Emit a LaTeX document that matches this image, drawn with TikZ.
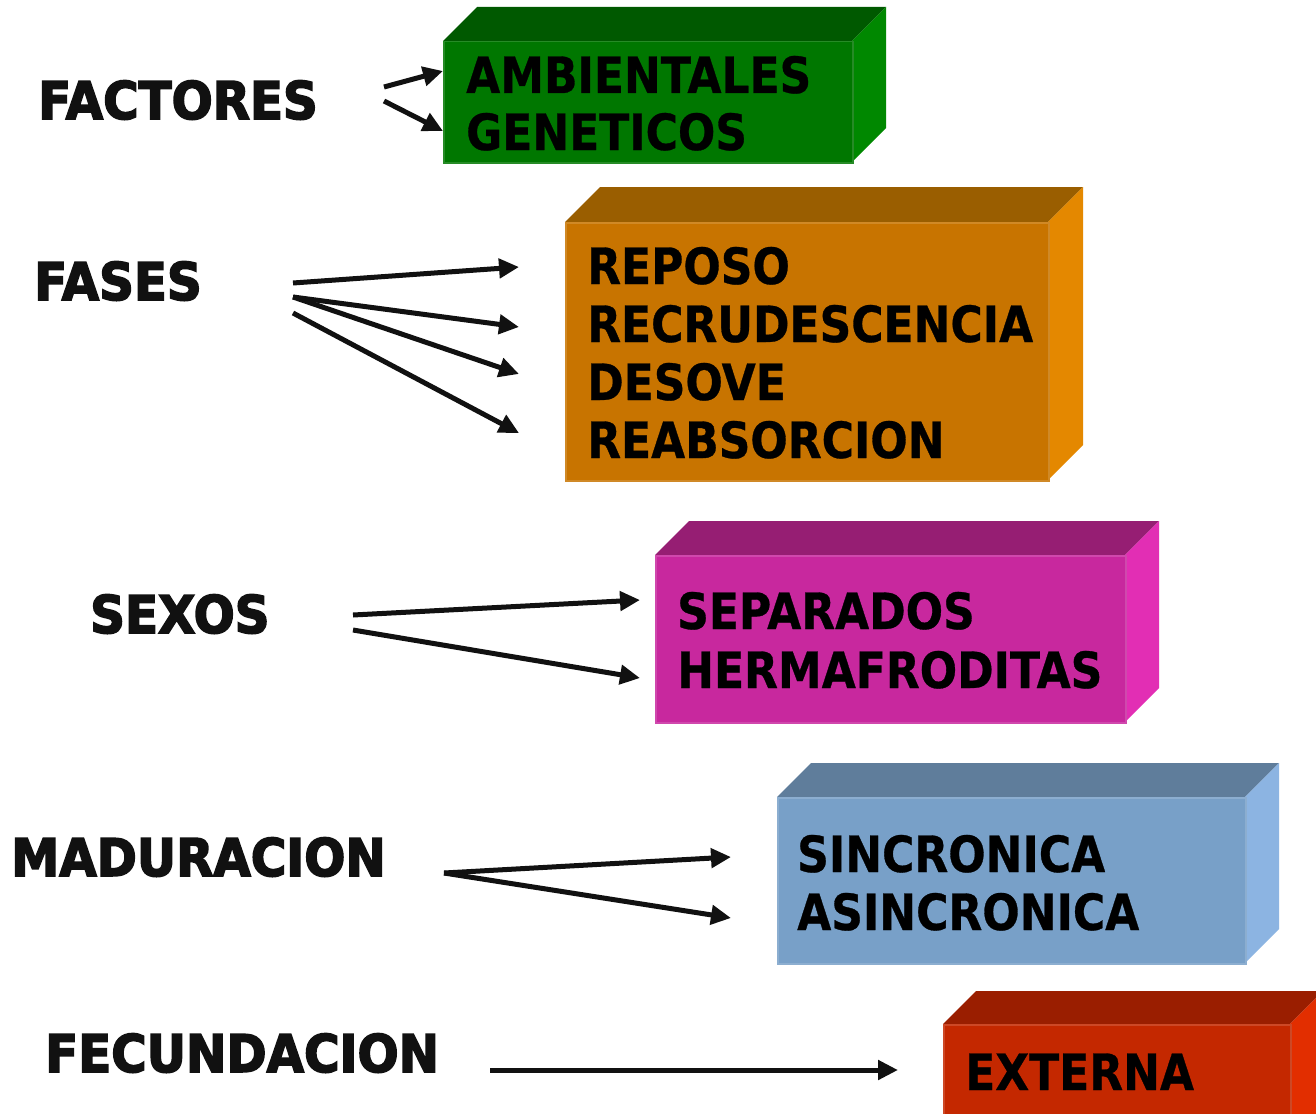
\documentclass[tikz,border=0pt]{standalone}
\usepackage{fontspec}
\usetikzlibrary{arrows.meta}
\newfontfamily\boxfont[FakeStretch=0.88,FakeBold=0.6]{DejaVu Sans Bold}
\newfontfamily\lblfont[FakeStretch=0.93,FakeBold=3]{DejaVu Sans Bold}
\definecolor{gF}{RGB}{0,119,0}\definecolor{gT}{RGB}{0,89,0}\definecolor{gS}{RGB}{0,136,0}
\definecolor{oF}{RGB}{200,116,0}\definecolor{oT}{RGB}{154,94,0}\definecolor{oS}{RGB}{228,136,0}
\definecolor{mF}{RGB}{200,40,158}\definecolor{mT}{RGB}{150,30,115}\definecolor{mS}{RGB}{226,46,180}
\definecolor{bF}{RGB}{120,160,200}\definecolor{bT}{RGB}{95,125,155}\definecolor{bS}{RGB}{140,180,226}
\definecolor{rF}{RGB}{196,40,0}\definecolor{rT}{RGB}{154,30,0}\definecolor{rS}{RGB}{226,46,0}
\definecolor{ink}{RGB}{17,17,17}
% \cubebox{name}{x1}{y1}{x2}{y2}{depth}{front}{top}{side}
\newcommand\cubebox[9]{%
  \fill[#8] (#2,#3) -- ++(#6,-#6) -- (#4+#6,#3-#6) -- (#4,#3) -- cycle;
  \fill[#9] (#4,#3) -- (#4+#6,#3-#6) -- (#4+#6,#5-#6) -- (#4,#5) -- cycle;
  \node[fill=#7, draw=#7!85!white, line width=1.5pt, inner sep=0pt, anchor=north west,
        minimum width={#4-#2}, minimum height={#5-#3}] (#1) at (#2,#3) {};
}
\tikzset{
  lbl/.style={font=\lblfont\fontsize{52}{52}\selectfont, text=ink, anchor=base west, inner sep=0pt},
  txt/.style={font=\boxfont\fontsize{50}{50}\selectfont, text=black, anchor=base west, inner sep=0pt},
  arr/.style={draw=ink, line width=5pt, -{Triangle[length=20pt,width=19pt]}}
}
\begin{document}
\begin{tikzpicture}[x=1pt,y=-1pt]
\useasboundingbox[fill=white] (0,0) rectangle (1316,1113);
% boxes
\cubebox{amb}{443}{41}{852}{162}{34}{gF}{gT}{gS}
\cubebox{fas}{565}{222}{1048}{480}{35}{oF}{oT}{oS}
\cubebox{sex}{655}{555}{1125}{722}{34}{mF}{mT}{mS}
\cubebox{mad}{777}{797}{1245}{963}{34}{bF}{bT}{bS}
\cubebox{fec}{943}{1024}{1290}{1140}{33}{rF}{rT}{rS}
% box texts
\node[txt] (t1) at (466,93) {AMBIENTALES};
\node[txt] (t2) at (466,150) {GENETICOS};
\node[txt] (t3) at (587,284) {REPOSO};
\node[txt] (t4) at (587,342) {RECRUDESCENCIA};
\node[txt] (t5) at (587,400) {DESOVE};
\node[txt] (t6) at (587,458) {REABSORCION};
\node[txt] (t7) at (677,629) {SEPARADOS};
\node[txt] (t8) at (677,688) {HERMAFRODITAS};
\node[txt] (t9) at (797,872) {SINCRONICA};
\node[txt] (t10) at (797,930) {ASINCRONICA};
\node[txt] (t11) at (965,1090) {EXTERNA};
% left labels
\node[lbl] (factores) at (38,119) {FACTORES};
\node[lbl] (fases) at (34,300) {FASES};
\node[lbl] (sexos) at (90,633) {SEXOS};
\node[lbl] (maduracion) at (11,876) {MADURACION};
\node[lbl] (fecundacion) at (45,1072) {FECUNDACION};
% arrow start/end points
\coordinate (fa1) at (384,87);  \coordinate (fa2) at (384,101);
\coordinate (fs1) at (293,283); \coordinate (fs2) at (293,297); \coordinate (fs3) at (293,313);
\coordinate (sx1) at (353,615); \coordinate (sx2) at (353,630);
\coordinate (md) at (444,873);
\coordinate (fc) at (490,1070);
\coordinate (e1) at (519,267); \coordinate (e2) at (519,327); \coordinate (e3) at (519,374); \coordinate (e4) at (519,433);
\coordinate (s1) at (640,600); \coordinate (s2) at (640,678);
\coordinate (m1) at (731,857); \coordinate (m2) at (731,918);
\coordinate (x1) at (898,1070);
\draw[arr] (fa1) -- (amb.west |- 0,71);
\draw[arr] (fa2) -- (amb.west |- 0,131);
\draw[arr] (fs1) -- (e1);
\draw[arr] (fs2) -- (e2);
\draw[arr] (fs2) -- (e3);
\draw[arr] (fs3) -- (e4);
\draw[arr] (sx1) -- (s1);
\draw[arr] (sx2) -- (s2);
\draw[arr] (md) -- (m1);
\draw[arr] (md) -- (m2);
\draw[arr] (fc) -- (x1);
\end{tikzpicture}
\end{document}
